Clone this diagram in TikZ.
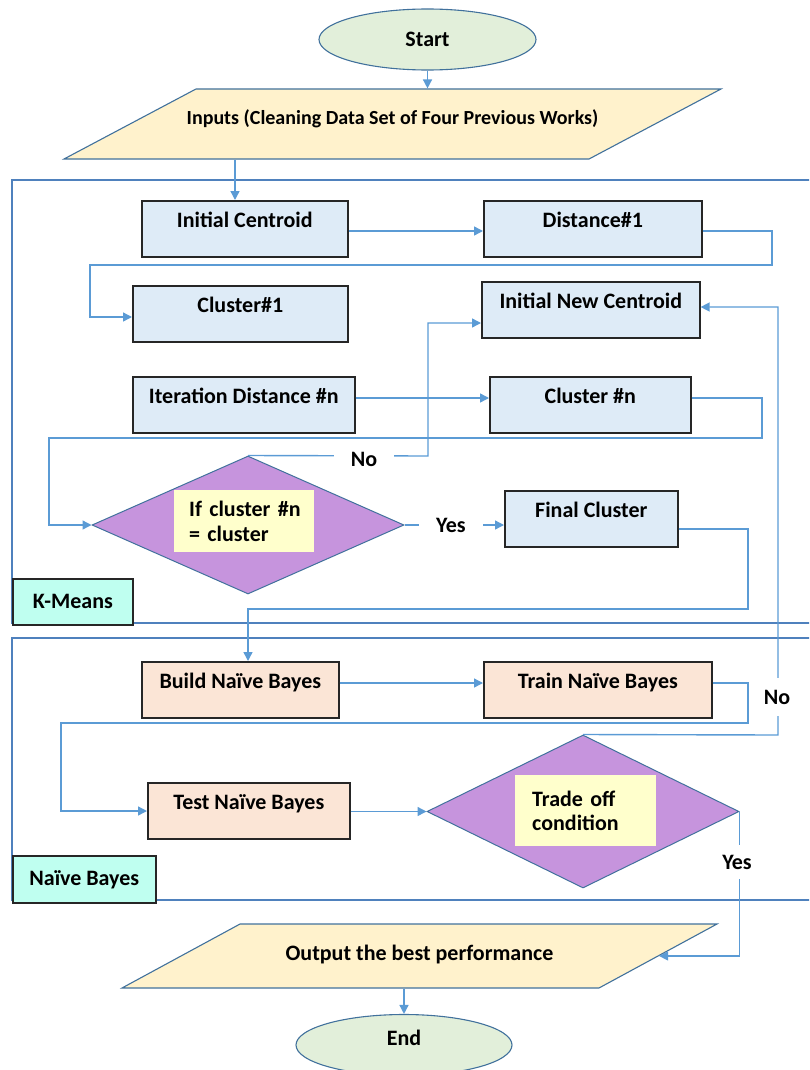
\documentclass[tikz,border=0pt]{standalone}
\usepackage{fontspec}
\setmainfont{Carlito}
\usetikzlibrary{shapes.geometric,arrows.meta}
\definecolor{connc}{HTML}{5B9BD5}
\definecolor{framec}{HTML}{4F81BD}
\definecolor{outl}{HTML}{41719C}
\definecolor{kmfill}{HTML}{DEEBF7}
\definecolor{nbfill}{HTML}{FBE5D6}
\definecolor{ellfill}{HTML}{E2EFDA}
\definecolor{parafill}{HTML}{FFF2CC}
\definecolor{purp}{HTML}{C694DD}
\definecolor{yel}{HTML}{FFFFCC}
\definecolor{labfill}{HTML}{BFFFF0}
\definecolor{boxline}{HTML}{262626}
\begin{document}
\begin{tikzpicture}[x=1pt,y=-1pt,
  font=\fontsize{22}{24.5}\selectfont\bfseries,
  boxbase/.style={draw=boxline, line width=1.6pt, anchor=north west,
    inner xsep=0pt, inner ysep=0pt, text height=27pt, text depth=29pt},
  kbox/.style={boxbase, fill=kmfill},
  nbox/.style={boxbase, fill=nbfill},
  term/.style={ellipse, draw=outl, line width=1.1pt, fill=ellfill,
    minimum width=217pt, minimum height=61pt, inner sep=0pt},
  para/.style={trapezium, trapezium stretches body, draw=outl, line width=1.1pt,
    fill=parafill, inner xsep=0pt},
  decide/.style={diamond, draw=outl, line width=1pt, fill=purp,
    minimum width=312pt, inner sep=0pt},
  ybox/.style={fill=yel, anchor=north west, align=left, inner sep=0pt},
  grouplab/.style={draw=boxline, line width=1.6pt, fill=labfill, anchor=north west,
    inner sep=0pt},
  frame/.style={draw=framec, line width=1.3pt},
  conn/.style={draw=connc, line width=1.4pt},
  arr/.style={conn, -{Triangle[length=9pt,width=9pt]}},
  lbl/.style={fill=white, inner sep=0pt}
]
\useasboundingbox (0,0) rectangle (809,1070);
\clip (0,0) rectangle (809,1070);

% group frames
\draw[frame] (12,180) rectangle (840,623);
\draw[frame] (12,638) rectangle (840,900);

% terminals and I/O
\node[term] (start) at (427.5,39.5) {Start};
\node[para, trapezium left angle=27.94, trapezium right angle=152.06,
  minimum width=657pt, text height=15pt, text depth=13.5pt, inner ysep=20.75pt]
  (inputs) at (392.5,124)
  {\makebox[360pt]{\fontsize{20}{24}\selectfont Inputs (Cleaning Data Set of Four Previous Works)}};

% K-Means
\node[kbox, minimum width=206pt] (ic) at (141,200) {Initial Centroid};
\node[kbox, minimum width=218pt] (d1) at (483,200) {Distance\#1};
\node[kbox, minimum width=215pt] (c1) at (132,285) {Cluster\#1};
\node[kbox, minimum width=218pt] (inc) at (481,281) {Initial New Centroid};
\node[kbox, minimum width=222pt] (itd) at (132,376) {Iteration Distance \#n};
\node[kbox, minimum width=201pt] (cn) at (489,376) {Cluster \#n};
\node[kbox, minimum width=173pt] (fc) at (504,490) {Final Cluster};
\node[decide, minimum height=138pt] (dia1) at (248,525) {};
\node[ybox, minimum width=140pt, minimum height=62pt, text width=140pt]
  (q1) at (174,490) {\hspace*{15pt}If cluster \#n\\\hspace*{15pt}= cluster};
\node[grouplab, minimum width=120pt, minimum height=46pt] (kml) at (12,578) {K-Means};

% Naive Bayes
\node[nbox, minimum width=197pt] (bnb) at (141,661) {Build Naïve Bayes};
\node[nbox, minimum width=228pt] (tnb) at (483,661) {Train Naïve Bayes};
\node[nbox, minimum width=202pt] (tst) at (147,782) {Test Naïve Bayes};
\node[decide, minimum height=153pt] (dia2) at (583,811.5) {};
\node[ybox, minimum width=141pt, minimum height=71pt, text width=141pt]
  (q2) at (515,775) {\hspace*{17pt}Trade off\\\hspace*{17pt}condition};
\node[grouplab, minimum width=143pt, minimum height=47pt] (nbl) at (12,855) {Naïve Bayes};

\node[para, trapezium left angle=28.47, trapezium right angle=151.53,
  minimum width=595pt, text height=15pt, text depth=5.5pt, inner ysep=21.75pt]
  (output) at (419.5,956) {Output the best performance};
\node[term, minimum width=216pt, text height=14pt, text depth=14pt] (end) at (404,1045) {End};

% connectors
\draw[arr] (start.south) -- (start.south |- inputs.north);
\draw[arr] (inputs.south -| 235,0) -- (ic.north -| 235,0);
\draw[arr] (ic.east |- 0,231) -- (d1.west |- 0,231);
\draw[arr] (d1.east |- 0,231) -- (772,231) -- (772,265) -- (90,265) -- (90,317) -- (c1.west |- 0,317);
\draw[arr] (itd.east |- 0,398) -- (cn.west |- 0,398);
\draw[arr] (cn.east |- 0,398) -- (762,398) -- (762,438) -- (49,438) -- (49,525) -- (dia1.west);
\draw[arr] (dia1.north) -- (428,456) -- (428,323) -- (inc.west |- 0,323);
\draw[arr] (dia1.east) -- (fc.west |- dia1.east);
\draw[arr] (fc.east |- 0,529) -- (748,529) -- (748,609) -- (248,609) -- (bnb.north -| 248,0);
\draw[arr] (bnb.east |- 0,683) -- (tnb.west |- 0,683);
\draw[arr] (tnb.east |- 0,683) -- (748,683) -- (748,723) -- (61,723) -- (61,811) -- (tst.west |- 0,811);
\draw[arr] (tst.east |- dia2.west) -- (dia2.west);
\draw[arr] (dia2.north) -- (778,735) -- (778,307) -- (inc.east |- 0,307);
\draw[arr] (dia2.east) -- (output.east -| dia2.east) -- (output.east);
\draw[arr] (end.north |- output.south) -- (end.north);

% branch labels
\node[lbl, minimum width=60pt, minimum height=24pt] (no1) at (364,459) {No};
\node[lbl, minimum width=64pt, minimum height=22pt] (yes1) at (451,525) {Yes};
\node[lbl, minimum width=32pt, minimum height=38pt] (no2) at (777,697) {No};
\node[lbl, minimum width=38pt, minimum height=34pt] (yes2) at (737,862) {Yes};
\end{tikzpicture}
\end{document}
